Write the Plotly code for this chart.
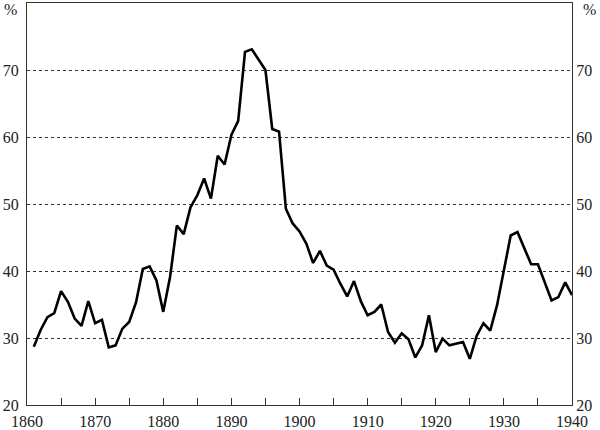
import plotly.graph_objects as go

years = list(range(1861, 1941))
values = [
    28.7, 31.2, 33.1, 33.7, 37.0, 35.4, 32.9, 31.8, 35.5, 32.2,   # 1861-1870
    32.7, 28.6, 28.9, 31.4, 32.4, 35.3, 40.3, 40.7, 38.6, 33.9,   # 1871-1880
    39.1, 46.8, 45.5, 49.5, 51.3, 53.8, 50.8, 57.2, 55.9, 60.3,   # 1881-1890
    62.4, 72.7, 73.1, 71.6, 70.0, 61.2, 60.8, 49.3, 47.1, 45.9,   # 1891-1900
    44.1, 41.2, 43.0, 40.8, 40.2, 38.1, 36.2, 38.5, 35.5, 33.4,   # 1901-1910
    33.9, 35.0, 30.9, 29.3, 30.7, 29.8, 27.1, 28.9, 33.4, 27.9,   # 1911-1920
    29.9, 28.9, 29.1, 29.4, 26.9, 30.3, 32.2, 31.1, 34.9, 40.3,   # 1921-1930
    45.3, 45.8, 43.3, 41.0, 41.0, 38.3, 35.6, 36.1, 38.3, 36.4,   # 1931-1940
]

x_tick_vals = list(range(1860, 1941, 5))
x_tick_text = [str(v) if v % 10 == 0 else "" for v in x_tick_vals]
y_tick_vals = [20, 30, 40, 50, 60, 70]
y_tick_text = ["20", "30", "40", "50", "60", "70"]
unit_label = "%"

FONT = dict(family="Liberation Serif", size=16, color="#222222")
AXIS_COLOR = "#333333"

fig = go.Figure()
fig.add_trace(go.Scatter(x=years, y=values, mode="lines",
                         line=dict(color="#000000", width=2.6),
                         hoverinfo="skip", showlegend=False))
fig.add_trace(go.Scatter(x=years, y=values, mode="lines", yaxis="y2",
                         line=dict(color="rgba(0,0,0,0)", width=0),
                         hoverinfo="skip", showlegend=False))

fig.update_layout(
    width=600, height=430,
    margin=dict(l=27, r=28, t=3, b=25, autoexpand=False),
    paper_bgcolor="white", plot_bgcolor="white",
    font=FONT,
    showlegend=False,
    xaxis=dict(range=[1860, 1940], tickvals=x_tick_vals, ticktext=x_tick_text,
               ticks="inside", ticklen=7, tickwidth=1, tickcolor=AXIS_COLOR,
               showline=True, linecolor=AXIS_COLOR, linewidth=1, mirror=True,
               showgrid=False, zeroline=False, tickfont=FONT,
               ticklabelstandoff=2, automargin=False),
    yaxis=dict(range=[20, 80], tickvals=y_tick_vals, ticktext=y_tick_text,
               ticks="", showline=True, linecolor=AXIS_COLOR, linewidth=1,
               showgrid=True, gridcolor="#333333", gridwidth=1, griddash="dot",
               zeroline=False, tickfont=FONT, ticklabelstandoff=4,
               automargin=False),
    yaxis2=dict(range=[20, 80], tickvals=y_tick_vals, ticktext=y_tick_text,
                overlaying="y", side="right", ticks="",
                showline=True, linecolor=AXIS_COLOR, linewidth=1,
                showgrid=False, zeroline=False, tickfont=FONT,
                automargin=False),
)

fig.add_annotation(text=unit_label, xref="paper", yref="paper", x=0, y=1,
                   xanchor="right", yanchor="top", xshift=-8, yshift=4,
                   showarrow=False, font=FONT)
fig.add_annotation(text=unit_label, xref="paper", yref="paper", x=1, y=1,
                   xanchor="left", yanchor="top", xshift=9, yshift=4,
                   showarrow=False, font=FONT)

fig.write_html("out.html", config={"displayModeBar": False},
               post_script="document.body.style.margin='0';document.body.style.padding='0';")
